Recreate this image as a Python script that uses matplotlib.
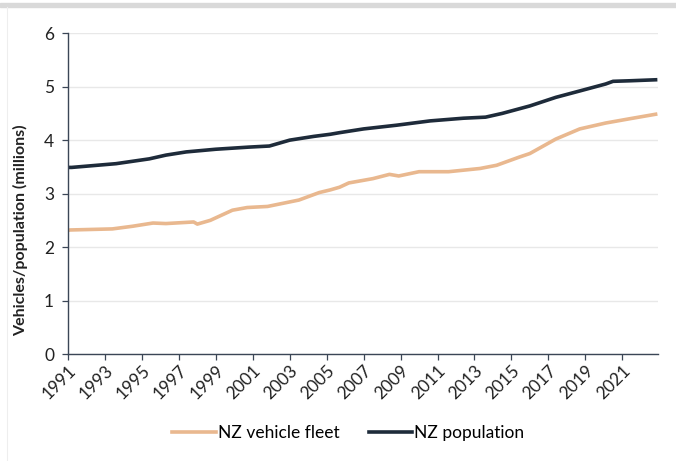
import matplotlib
matplotlib.use("Agg")
import matplotlib.pyplot as plt
from matplotlib.lines import Line2D
from matplotlib.patches import Rectangle

plt.rcParams['font.family'] = ['Lato', 'DejaVu Sans']

pop_years = [1991.0, 1991.2, 1993.6, 1995.4, 1996.3, 1997.4, 1999.0, 2000.8, 2001.9, 2002.5,
             2003.0, 2004.3, 2005.2, 2005.7, 2007.0, 2008.8, 2010.6, 2012.4, 2013.6, 2014.5,
             2016.0, 2017.4, 2018.7, 2020.1, 2020.5, 2021.4, 2022.9]
population = [3.49, 3.49, 3.56, 3.65, 3.72, 3.78, 3.83, 3.87, 3.89, 3.95,
              4.00, 4.07, 4.11, 4.14, 4.21, 4.28, 4.36, 4.41, 4.43, 4.50,
              4.64, 4.80, 4.92, 5.05, 5.10, 5.11, 5.13]

fleet_years = [1991.0, 1991.1, 1993.4, 1994.5, 1995.6, 1996.3, 1997.8, 1998.0, 1998.7, 1999.9,
               2000.7, 2001.8, 2003.5, 2004.6, 2005.2, 2005.7, 2006.2, 2007.5, 2008.4, 2008.9,
               2010.0, 2011.6, 2013.3, 2014.2, 2015.4, 2016.0, 2017.4, 2018.7, 2020.1, 2021.4, 2022.9]
fleet = [2.31, 2.32, 2.34, 2.39, 2.45, 2.44, 2.47, 2.43, 2.50, 2.69,
         2.74, 2.76, 2.88, 3.02, 3.07, 3.12, 3.20, 3.28, 3.36, 3.33,
         3.41, 3.41, 3.47, 3.53, 3.68, 3.75, 4.02, 4.21, 4.32, 4.40, 4.49]

tick_years = list(range(1991, 2022, 2))
tick_labels = [str(y) for y in tick_years]

fleet_color = '#E9B88F'
pop_color = '#1E2B3A'
axis_color = '#3B4656'

fig = plt.figure(figsize=(6.76, 4.61), dpi=100)
ax = fig.add_axes([0.1006, 0.232, 0.8724, 0.696])

ax.plot(fleet_years, fleet, color=fleet_color, lw=2.6, solid_capstyle='butt')
ax.plot(pop_years, population, color=pop_color, lw=2.6, solid_capstyle='butt')

ax.set_xlim(1991, 2022.92)
ax.set_ylim(0, 6)
ax.set_yticks(range(0, 7))
ax.set_xticks(tick_years)
ax.set_xticklabels(tick_labels, rotation=45, ha='right', rotation_mode='anchor')
ax.tick_params(axis='both', labelsize=12.5, colors='#222222', length=4, width=0.9, direction='out')
ax.tick_params(axis='x', color=axis_color, pad=2)
ax.tick_params(axis='y', color=axis_color, pad=6)
ax.grid(axis='y', color='#E8E8E8', lw=1)
ax.set_axisbelow(True)
for s in ['top', 'right']:
    ax.spines[s].set_visible(False)
for s in ['left', 'bottom']:
    ax.spines[s].set_color(axis_color)
    ax.spines[s].set_linewidth(1.0)

ax.set_ylabel('Vehicles/population (millions)', fontsize=11.5, fontweight='bold', color='#222222')
ax.yaxis.set_label_coords(21/676 - 0.1006 * 0 , 0.5, transform=fig.transFigure)
ax.yaxis.label.set_verticalalignment('center')

handles = [Line2D([], [], color=fleet_color, lw=2.6), Line2D([], [], color=pop_color, lw=2.6)]
fig.legend(handles, ['NZ vehicle fleet', 'NZ population'], loc='center', bbox_to_anchor=(0.515, 0.06),
           ncol=2, frameon=False, fontsize=12.5, handlelength=2.5, handletextpad=0.1, columnspacing=1.7)

# frame decorations
fig.patches.append(Rectangle((0.0, 1 - 7/461), 1.0, 4/461, transform=fig.transFigure,
                             color='#D9D9D9', zorder=0))
fig.lines.append(Line2D([7/676, 7/676], [0, 1 - 7/461], transform=fig.transFigure,
                        color='#EEEEEE', lw=0.8))

fig.savefig('out.png', dpi=100)
